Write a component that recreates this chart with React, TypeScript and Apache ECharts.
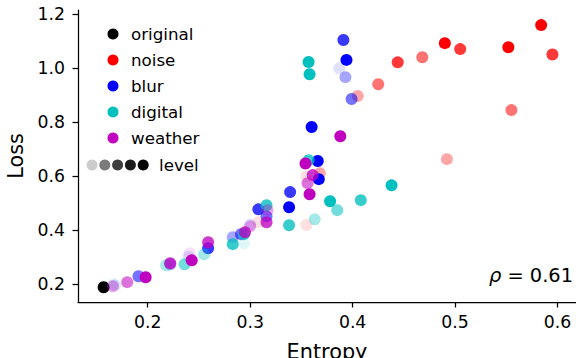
import React, { useEffect, useRef } from "react";
import * as echarts from "echarts";

// [entropy, loss, level]
const ORIGINAL: number[][] = [[0.157, 0.187, 5]];
const NOISE: number[][] = [
  [0.49, 1.092, 5], [0.552, 1.077, 5], [0.584, 1.159, 5],
  [0.505, 1.07, 4], [0.595, 1.05, 4], [0.444, 1.021, 4],
  [0.468, 1.04, 3], [0.425, 0.94, 3], [0.555, 0.844, 3],
  [0.405, 0.896, 2], [0.492, 0.662, 2], [0.368, 0.61, 2],
  [0.355, 0.599, 1], [0.355, 0.418, 1], [0.308, 0.429, 1],
];
const BLUR: number[][] = [
  [0.391, 1.104, 4], [0.394, 1.03, 5], [0.387, 0.999, 1], [0.393, 0.966, 2],
  [0.399, 0.885, 3], [0.36, 0.781, 5], [0.366, 0.655, 5], [0.367, 0.588, 5],
  [0.339, 0.54, 4], [0.338, 0.484, 5], [0.308, 0.476, 4], [0.316, 0.45, 3],
  [0.291, 0.384, 3], [0.283, 0.373, 2], [0.259, 0.332, 4], [0.191, 0.228, 3],
  [0.168, 0.195, 1], [0.24, 0.3, 1], [0.3, 0.42, 1], [0.222, 0.272, 2],
];
const DIGITAL: number[][] = [
  [0.357, 1.022, 5], [0.358, 0.977, 5], [0.357, 0.658, 4], [0.438, 0.565, 5],
  [0.378, 0.506, 5], [0.408, 0.51, 4], [0.385, 0.473, 3], [0.363, 0.439, 2],
  [0.338, 0.417, 4], [0.316, 0.491, 4], [0.294, 0.384, 4], [0.283, 0.347, 4],
  [0.294, 0.35, 1], [0.255, 0.309, 2], [0.236, 0.272, 3], [0.218, 0.269, 2],
  [0.166, 0.198, 1],
];
const WEATHER: number[][] = [
  [0.354, 0.646, 5], [0.361, 0.603, 4], [0.356, 0.573, 3], [0.358, 0.532, 5],
  [0.388, 0.747, 5], [0.317, 0.473, 2], [0.316, 0.428, 4], [0.3, 0.413, 2],
  [0.295, 0.391, 4], [0.259, 0.354, 4], [0.241, 0.313, 1], [0.243, 0.287, 5],
  [0.222, 0.276, 4], [0.198, 0.224, 5], [0.18, 0.206, 3], [0.166, 0.191, 2],
];

const CATEGORIES = ["original", "noise", "blur", "digital", "weather"];
const SERIES_DATA = [ORIGINAL, NOISE, BLUR, DIGITAL, WEATHER];
const COLORS = ["#000000", "#ff0000", "#0000ff", "#00bfbf", "#bf00bf"];
const LEVEL_ALPHA = [0.12, 0.35, 0.55, 0.78, 1];
const LEVEL_LEGEND = ["#cccccc", "#7a7a7a", "#3e3e3e", "#1c1c1c", "#000000"];
const X_TICKS = [0.2, 0.3, 0.4, 0.5, 0.6];
const Y_TICKS = [0.2, 0.4, 0.6, 0.8, 1.0, 1.2];
const RHO = "0.61";

const FONT = "DejaVu Sans";

export default function App() {
  const ref = useRef<HTMLDivElement>(null);
  useEffect(() => {
    document.body.style.margin = "0";
    const chart = echarts.init(ref.current!, null, { renderer: "svg" });
    const legendItems: any[] = [];
    CATEGORIES.forEach((c, i) => {
      const y = 34 + i * 26;
      legendItems.push({
        type: "circle",
        shape: { cx: 113, cy: y, r: 5.5 },
        style: { fill: COLORS[i] },
      });
      legendItems.push({
        type: "text",
        x: 131,
        y: y,
        style: { text: c, font: `16.7px "${FONT}"`, fill: "#000", verticalAlign: "middle" },
      });
    });
    LEVEL_LEGEND.forEach((col, i) => {
      legendItems.push({
        type: "circle",
        shape: { cx: 92 + i * 12.8, cy: 165, r: 5.5 },
        style: { fill: col },
      });
    });
    legendItems.push({
      type: "text",
      x: 159,
      y: 165,
      style: { text: "level", font: `16.7px "${FONT}"`, fill: "#000", verticalAlign: "middle" },
    });
    legendItems.push({
      type: "text",
      right: 3,
      y: 266,
      style: {
        text: "{i|ρ} = " + RHO,
        fill: "#000",
        rich: {
          i: { fontFamily: FONT, fontStyle: "italic", fontSize: 19.4 },
        },
        font: `19.4px "${FONT}"`,
      },
    });

    const axisCommon = {
      type: "value" as const,
      splitLine: { show: false },
      axisLine: { show: true, onZero: false, lineStyle: { color: "#000", width: 1.25 } },
      axisTick: { show: true, length: 5.5, lineStyle: { color: "#000", width: 1.25 } },
      nameTextStyle: { fontFamily: FONT, fontSize: 20.8, color: "#000" },
    };

    chart.setOption({
      animation: false,
      grid: {
        left: 78,
        right: 0,
        top: 10,
        bottom: 56,
        containLabel: false,
        outerBoundsMode: "none",
      },
      xAxis: {
        ...axisCommon,
        min: 0.132,
        max: 0.618,
        name: "Entropy",
        nameLocation: "middle",
        nameGap: 39,
        axisTick: { ...axisCommon.axisTick, customValues: X_TICKS },
        axisLabel: {
          customValues: X_TICKS,
          formatter: (v: number) => v.toFixed(1),
          fontFamily: FONT,
          fontSize: 17.3,
          color: "#000",
          margin: 11,
        },
      },
      yAxis: {
        ...axisCommon,
        min: 0.1325,
        max: 1.215,
        name: "Loss",
        nameLocation: "middle",
        nameGap: 50,
        axisTick: { ...axisCommon.axisTick, customValues: Y_TICKS },
        axisLabel: {
          customValues: Y_TICKS,
          formatter: (v: number) => v.toFixed(1),
          fontFamily: FONT,
          fontSize: 17.3,
          color: "#000",
          margin: 13,
        },
      },
      series: SERIES_DATA.map((arr, i) => ({
        type: "scatter",
        name: CATEGORIES[i],
        symbol: "circle",
        symbolSize: 12,
        itemStyle: { color: COLORS[i] },
        data: arr.map((p) => ({
          value: [p[0], p[1]],
          itemStyle: { opacity: LEVEL_ALPHA[p[2] - 1] },
        })),
      })),
      graphic: legendItems,
    });
    return () => chart.dispose();
  }, []);
  return (
    <div
      ref={ref}
      style={{ position: "absolute", left: 0, top: 0, width: 576, height: 358 }}
    />
  );
}
